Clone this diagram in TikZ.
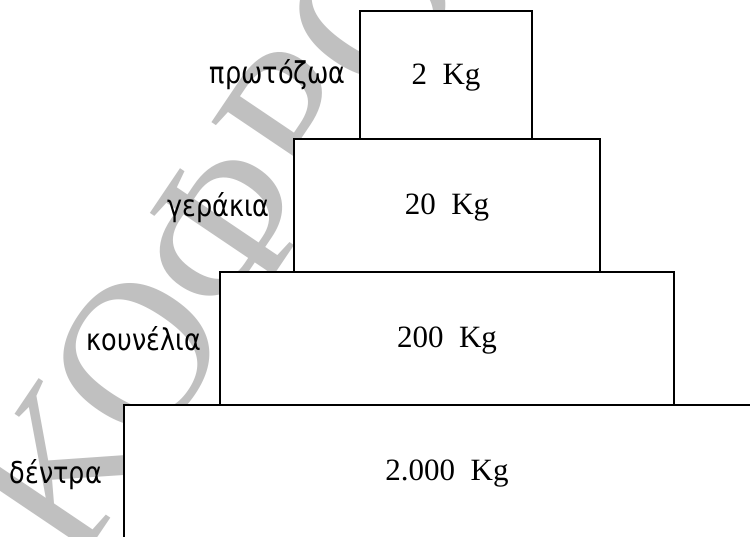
\documentclass[tikz,border=0pt]{standalone}
\usepackage{fontspec}
\setmainfont{Liberation Serif}
\newfontfamily\lblfont[FakeStretch=0.85]{DejaVu Sans}
\newfontfamily\wmfont{Liberation Serif}
\definecolor{wmgray}{HTML}{C0C0C0}
\tikzset{
  box/.style={draw=black, line width=1.6pt, fill=white, inner sep=0pt,
    text height=18pt, text depth=0pt, font=\fontsize{31}{33}\selectfont},
  lbl/.style={anchor=base east, inner sep=0pt, font=\lblfont\fontsize{30}{32}\selectfont}
}
\begin{document}
\begin{tikzpicture}[x=1pt,y=-1pt]
\useasboundingbox (0,0) rectangle (750,536);
\clip (0,0) rectangle (750,536);
\fill[white] (0,0) rectangle (750,536);
% watermark
\node[anchor=base west, rotate=56, inner sep=0pt, text=wmgray,
  font=\wmfont\fontsize{210}{210}\selectfont] (wm) at (75,571) {ΚΟΦΡΟΝ};
% boxes
\node[box, minimum width=646pt, minimum height=133pt] (b4) at (447,471.5) {2.000\hspace{0.5em}Kg};
\node[box, minimum width=454pt, minimum height=133pt] (b3) at (447,338.5) {200\hspace{0.5em}Kg};
\node[box, minimum width=306pt, minimum height=133pt] (b2) at (447,205.5) {20\hspace{0.5em}Kg};
\node[box, minimum width=172pt, minimum height=128pt] (b1) at (446,75) {2\hspace{0.5em}Kg};
% labels
\node[lbl] (l1) at (346,83) {πρωτόζωα};
\node[lbl] (l2) at (270,216) {γεράκια};
\node[lbl] (l3) at (201,350) {κουνέλια};
\node[lbl] (l4) at (102,483) {δέντρα};
\end{tikzpicture}
\end{document}
